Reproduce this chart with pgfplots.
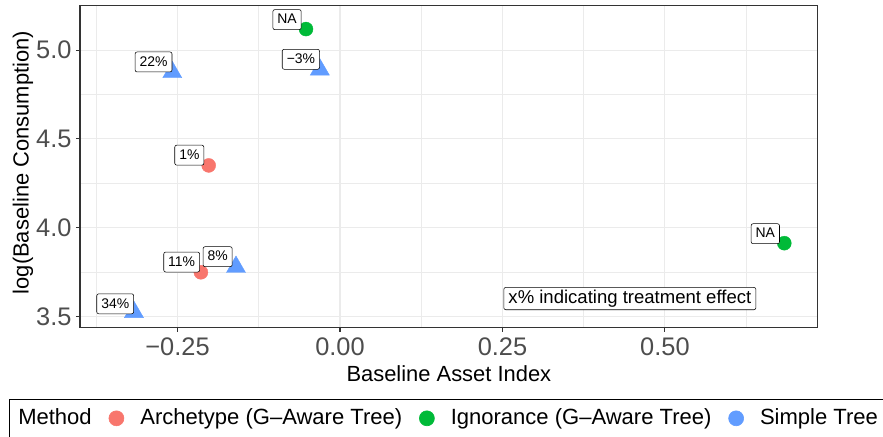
\documentclass[border=0pt]{standalone}
\usepackage{fontspec}
\setmainfont{Liberation Sans}
\usepackage{pgfplots}
\pgfplotsset{compat=1.18}
\definecolor{cRed}{HTML}{F8766D}
\definecolor{cGreen}{HTML}{00BA38}
\definecolor{cBlue}{HTML}{619CFF}
\definecolor{g92}{HTML}{EBEBEB}
\definecolor{g20}{HTML}{333333}
\definecolor{g30}{HTML}{4D4D4D}
\begin{document}
\begin{tikzpicture}
\begin{axis}[
 scale only axis, width=737.7bp, height=322.4bp,
 at={(80bp,109.3bp)}, anchor=south west,
 xmin=-0.4, xmax=0.735, ymin=3.436, ymax=5.252,
 xtick={-0.25,0,0.25,0.5}, xticklabels={−0.25,0.00,0.25,0.50},
 minor xtick={-0.375,-0.125,0.125,0.375,0.625},
 ytick={3.5,4,4.5,5}, yticklabels={3.5,4.0,4.5,5.0},
 minor ytick={3.75,4.25,4.75},
 grid=both,
 major grid style={draw=g92, line width=1.07bp},
 minor grid style={draw=g92, line width=0.53bp},
 axis line style={draw=g20, line width=1.07bp},
 tick pos=left, tick align=outside,
 major tick length=4bp, minor tick length=0pt,
 major tick style={draw=g20, line width=1.07bp},
 ticklabel style={font=\fontsize{25.5}{30}\selectfont, text=g30, inner sep=0pt},
 xticklabel style={yshift=-6.3bp},
 yticklabel style={xshift=-4.3bp},
 xlabel={Baseline Asset Index},
 ylabel={log(Baseline Consumption)},
 label style={font=\fontsize{22}{26}\selectfont, text=black, inner sep=0pt},
 xlabel style={at={(axis description cs:0.5,-0.1669)}, anchor=base},
 ylabel style={at={(axis description cs:-0.0695,0.512)}, anchor=base},
 legend style={at={(axis description cs:-0.09625,-0.2212)}, anchor=north west,
   draw=black, line width=0.6bp, inner xsep=9bp, inner ysep=9bp,
   font=\fontsize{22.1}{26}\selectfont,
   nodes={inner sep=0pt, text height=16bp, text depth=4bp},
   /tikz/every even column/.append style={column sep=16.9bp}},
 legend columns=-1, legend cell align=left,
 legend image code/.code={\draw[#1, mark size=7.5bp] plot coordinates {(0bp,0bp)}; \path (-7.5bp,0bp) (23.6bp,0bp);},
 every node near coord/.append style={font=\fontsize{14}{16}\selectfont, text=black,
   draw=black, fill=white, rounded corners=2bp, line width=0.55bp,
   inner xsep=4.5bp, inner ysep=4.25bp, text height=10bp, text depth=1.5bp, anchor=south east},
]
\addlegendimage{empty legend}
\addlegendentry{Method}
\addlegendimage{only marks, mark=*, color=cRed}
\addlegendentry{Archetype (G–Aware Tree)}
\addlegendimage{only marks, mark=*, color=cGreen}
\addlegendentry{Ignorance (G–Aware Tree)}
\addlegendimage{only marks, mark=*, color=cBlue}
\addlegendentry{Simple Tree}

% data points
\addplot[only marks, mark=*, mark size=7bp, color=cRed, forget plot]
  coordinates {(-0.202,4.350) (-0.214,3.748)};
\addplot[only marks, mark=*, mark size=7bp, color=cGreen, forget plot]
  coordinates {(-0.0523,5.118) (0.6836,3.912)};
\addplot[only marks, mark=triangle*, mark size=11bp, color=cBlue, forget plot]
  coordinates {(-0.258,4.875) (-0.031,4.89) (-0.160,3.778) (-0.317,3.524)};

% labels
\addplot[draw=none, mark=none, forget plot, point meta=explicit symbolic,
  nodes near coords={\pgfplotspointmeta\%},
  every node near coord/.append style={xshift=-4.5bp}]
  table[meta=lab] {
x y lab
-0.202 4.350 1
};
\addplot[draw=none, mark=none, forget plot, point meta=explicit symbolic,
  nodes near coords={\pgfplotspointmeta\%},
  every node near coord/.append style={xshift=-3.5bp}]
  table[meta=lab] {
x y lab
-0.160 3.778 8
};
\addplot[draw=none, mark=none, forget plot, point meta=explicit symbolic,
  nodes near coords={\pgfplotspointmeta\%},
  every node near coord/.append style={xshift=-1bp}]
  table[meta=lab] {
x y lab
-0.214 3.748 11
};
\addplot[draw=none, mark=none, forget plot,
  nodes near coords={NA},
  every node near coord/.append style={xshift=-4.5bp, yshift=-0.8bp}]
  coordinates {(-0.0523,5.118) (0.6836,3.912)};
\addplot[draw=none, mark=none, forget plot, point meta=explicit symbolic,
  nodes near coords={\pgfplotspointmeta\%}]
  table[meta=lab] {
x y lab
-0.258 4.875 22
-0.031 4.89 −3
};
\addplot[draw=none, mark=none, forget plot, point meta=explicit symbolic,
  nodes near coords={\pgfplotspointmeta\%},
  every node near coord/.append style={yshift=-2bp}]
  table[meta=lab] {
x y lab
-0.317 3.524 34
};

\node[draw=black, fill=white, rounded corners=2bp, line width=0.55bp,
  font=\fontsize{18.6}{22}\selectfont, inner xsep=4.7bp, inner ysep=2.5bp,
  text height=13.4bp, text depth=3.9bp]
  at (axis cs:0.446,3.600) {x\% indicating treatment effect};
\end{axis}
\pgfresetboundingbox
\path[use as bounding box] (0bp,0bp) rectangle (883bp,437bp);
\end{tikzpicture}
\end{document}
